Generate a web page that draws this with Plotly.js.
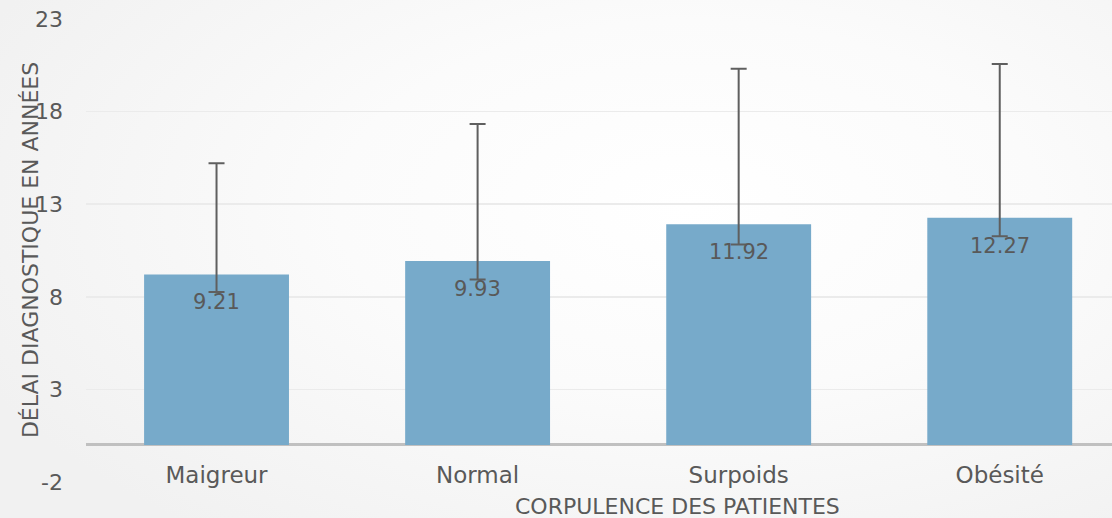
<!DOCTYPE html>
<html>
<head>
<meta charset="utf-8">
<script src="https://cdn.plot.ly/plotly-3.0.1.min.js"></script>
<style>
html,body{margin:0;padding:0;}
body{width:1112px;height:518px;background:radial-gradient(ellipse 70% 80% at 62% 40%, #ffffff 0%, #fbfbfb 45%, #f1f1f1 100%);}
#chart{width:1112px;height:518px;}
</style>
</head>
<body>
<div id="chart"></div>
<script>
const categories = ["Maigreur", "Normal", "Surpoids", "Obésité"];
const delaiMoyen = [9.21, 9.93, 11.92, 12.27];
const erreurPlus = [6.0, 7.4, 8.4, 8.3];
const erreurMoins = [0.95, 1.0, 1.1, 1.0];
const etiquettes = ["9.21", "9.93", "11.92", "12.27"];
const yTicks = [-2, 3, 8, 13, 18, 23];

const FONT = "'DejaVu Sans', sans-serif";
const TXT = "#595959";

const trace = {
  type: "bar",
  x: categories,
  y: delaiMoyen,
  marker: {color: "#77aaca"},
  error_y: {
    type: "data", symmetric: false,
    array: erreurPlus, arrayminus: erreurMoins,
    color: "#5f5f5f", thickness: 2, width: 8
  },
  hoverinfo: "x+y"
};

const labelAnnotations = categories.map((c, i) => ({
  x: c, y: delaiMoyen[i], xref: "x", yref: "y",
  text: etiquettes[i], showarrow: false,
  yanchor: "top", yshift: -14,
  font: {family: FONT, size: 21, color: TXT}
}));

const layout = {
  width: 1112, height: 518,
  margin: {l: 86, r: 0, t: 19, b: 36, pad: 0},
  paper_bgcolor: "rgba(0,0,0,0)",
  plot_bgcolor: "rgba(0,0,0,0)",
  bargap: 0.445,
  showlegend: false,
  font: {family: FONT, color: TXT, size: 22},
  xaxis: {
    type: "category",
    range: [-0.5, 3.43],
    showgrid: false, showline: false, zeroline: false,
    ticks: "",
    tickfont: {family: FONT, size: 23, color: TXT},
    ticklabelstandoff: -23
  },
  yaxis: {
    range: [-2, 23],
    tickvals: yTicks,
    ticktext: yTicks.map(String),
    showgrid: true, gridcolor: "#ebebeb", gridwidth: 1.5,
    zeroline: true, zerolinecolor: "#c0c0c0", zerolinewidth: 3,
    showline: false, ticks: "",
    tickfont: {family: FONT, size: 22, color: TXT},
    ticklabelstandoff: 22
  },
  annotations: labelAnnotations.concat([
    {
      xref: "paper", yref: "paper", x: -0.054, y: 0.5,
      xanchor: "center", yanchor: "middle", textangle: -90,
      text: "DÉLAI DIAGNOSTIQUE EN ANNÉES", showarrow: false,
      font: {family: FONT, size: 22, color: TXT}
    },
    {
      xref: "paper", yref: "paper", x: 0.5763, y: 0,
      xanchor: "center", yanchor: "middle", yshift: -24,
      text: "CORPULENCE DES PATIENTES", showarrow: false,
      font: {family: FONT, size: 22, color: TXT}
    }
  ])
};

Plotly.newPlot("chart", [trace], layout, {displayModeBar: false, staticPlot: true});
</script>
</body>
</html>
